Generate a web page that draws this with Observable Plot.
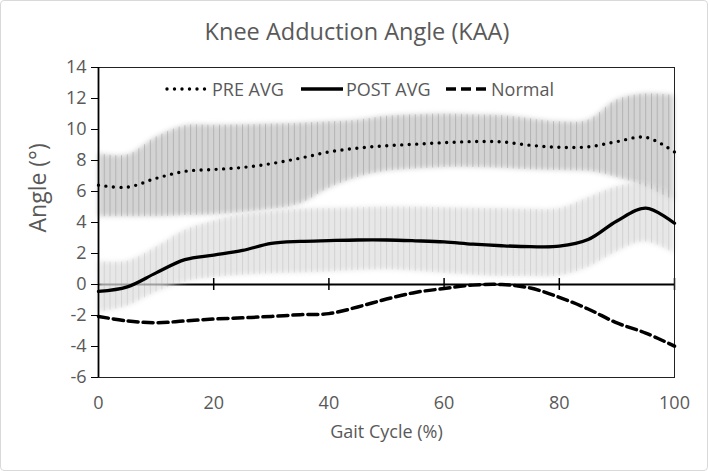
<!DOCTYPE html>
<html><head><meta charset="utf-8">
<script src="https://cdn.jsdelivr.net/npm/d3@7"></script>
<script src="https://cdn.jsdelivr.net/npm/@observablehq/plot@0.6"></script>
<style>
body{margin:0;background:#fff;}
#wrap{position:relative;width:708px;height:471px;overflow:hidden;font-family:"Open Sans",sans-serif;color:#595959;background:#fff;}
#border{position:absolute;left:0;top:0;right:0;bottom:0;border:1.5px solid #d9d9d9;border-radius:4px;pointer-events:none;}
#title{height:50px;box-sizing:border-box;padding-top:13px;line-height:36px;text-align:center;font-size:23.5px;padding-left:6px;}
#legend{position:absolute;top:77px;left:0;height:24px;font-size:18px;}
.li{position:absolute;top:0;display:flex;align-items:center;height:24px;white-space:nowrap;}
.li svg{display:block;margin-right:2px;}
#chart svg{display:block;}
</style></head>
<body>
<div id="wrap">
  <div id="title">Knee Adduction Angle (KAA)</div>
  <div id="chart"></div>
  <div id="legend"></div>
  <div id="border"></div>
</div>
<script>
// ---- data ----
const gait = [0,5,10,15,20,25,30,35,40,45,50,55,60,65,70,75,80,85,90,95,100];
const preAvg  = [6.41,6.28,6.85,7.30,7.42,7.55,7.80,8.15,8.55,8.80,8.95,9.05,9.15,9.22,9.20,8.98,8.85,8.88,9.22,9.50,8.55];
const preHi   = [8.45,8.35,9.50,10.25,10.27,10.30,10.35,10.40,10.50,10.60,10.85,10.95,11.00,10.95,10.90,10.70,10.50,10.60,11.90,12.30,12.20];
const preLo   = [4.37,4.37,4.37,4.45,4.50,4.65,4.85,5.20,6.20,6.90,7.30,7.45,7.55,7.55,7.50,7.40,7.35,7.30,6.90,6.30,5.40];
const postAvg = [-0.45,-0.15,0.75,1.60,1.90,2.20,2.65,2.78,2.83,2.87,2.87,2.82,2.75,2.60,2.50,2.44,2.47,2.90,4.10,4.93,3.95];
const postHi  = [1.48,1.50,2.40,3.50,4.10,4.50,4.70,4.85,4.90,4.95,5.00,5.00,4.95,4.92,4.90,4.85,4.90,5.60,6.30,6.55,5.90];
const postLo  = [-1.80,-1.40,-0.50,0.15,0.45,0.60,0.70,0.75,0.80,0.90,0.95,0.85,0.72,0.60,0.52,0.52,0.55,1.10,2.10,2.75,2.00];
const normal  = [-2.06,-2.35,-2.47,-2.35,-2.23,-2.15,-2.06,-1.95,-1.88,-1.45,-0.94,-0.51,-0.26,-0.04,0.00,-0.23,-0.83,-1.58,-2.48,-3.13,-3.98];
const xTicks = [0,20,40,60,80,100];
const yTicks = [-6,-4,-2,0,2,4,6,8,10,12,14];
const seriesNames = ["PRE AVG","POST AVG","Normal"];

const rows = gait.map((g,i)=>({x:g,preAvg:preAvg[i],preHi:preHi[i],preLo:preLo[i],postAvg:postAvg[i],postHi:postHi[i],postLo:postLo[i],normal:normal[i]}));

const curve = "catmull-rom";
const fmt = d => String(d);
const chart = Plot.plot({
  width: 708, height: 421,
  marginTop: 17, marginBottom: 94, marginLeft: 98, marginRight: 34,
  style: {fontFamily: "'Open Sans', sans-serif", fontSize: "18px", color: "#595959", background: "transparent", overflow: "visible"},
  x: {domain: [0,100]},
  y: {domain: [-6,14]},
  marks: [
    Plot.ruleY([0], {stroke: "#000", strokeWidth: 2}),
    // blurred band bodies
    Plot.areaY(rows, {x: "x", y1: "preLo", y2: "preHi", fill: "#cbcbcb", fillOpacity: 0.85, curve}),
    Plot.areaY(rows, {x: "x", y1: "postLo", y2: "postHi", fill: "#dedede", fillOpacity: 0.72, curve}),
    // vertical error-bar texture
    Plot.areaY(rows, {x: "x", y1: "preLo", y2: "preHi", fill: "url(#prePat)", curve}),
    Plot.areaY(rows, {x: "x", y1: "postLo", y2: "postHi", fill: "url(#postPat)", curve}),
    Plot.ruleX(xTicks.filter(d=>d>0), {y1: 0, y2: 0, insetTop: -6, insetBottom: -6, stroke: "#000", strokeWidth: 1.5}),
    Plot.frame({stroke: "#222", strokeWidth: 1}),
    Plot.ruleX([0], {stroke: "#000", strokeWidth: 1.8}),
    Plot.line(rows, {x: "x", y: "normal", stroke: "#000", strokeWidth: 3.5, strokeDasharray: "10 5", curve}),
    Plot.line(rows, {x: "x", y: "preAvg", stroke: "#000", strokeWidth: 3.4, strokeDasharray: "0 7.5", strokeLinecap: "round", curve}),
    Plot.line(rows, {x: "x", y: "postAvg", stroke: "#000", strokeWidth: 3.3, curve}),
    Plot.axisX({ticks: xTicks, tickSize: 0, tickPadding: 19, label: null, fontSize: 18, tickFormat: fmt}),
    Plot.axisY({ticks: yTicks, tickSize: 7, tickPadding: 5, label: null, fontSize: 18, stroke: "#000", tickFormat: fmt}),
    Plot.text(["Angle (°)"], {frameAnchor: "left", rotate: -90, dx: -60, dy: 10, fontSize: 23, fill: "#595959"}),
    Plot.text(["Gait Cycle (%)"], {frameAnchor: "bottom", dy: 60, fontSize: 18, fill: "#595959"})
  ]
});

// patterns imitating the vertical error bars
const xs = chart.scale("x");
const step = xs.apply(1) - xs.apply(0);
const x0 = xs.apply(0);
const svg = d3.select(chart);
const defs = svg.insert("defs", ":first-child");
function pat(id, line){
  const p = defs.append("pattern").attr("id", id).attr("patternUnits","userSpaceOnUse")
    .attr("x", x0).attr("y", 0).attr("width", step).attr("height", 20);
  p.append("rect").attr("x", 0).attr("width", 1).attr("height", 20).attr("fill", line);
}
pat("prePat", "rgba(120,120,120,0.35)");
pat("postPat", "rgba(140,140,140,0.22)");
const areas = svg.selectAll('g[aria-label="area"]').nodes();
areas.slice(0,2).forEach(n => n.style.filter = "blur(2.6px)");
areas.slice(2).forEach(n => n.style.filter = "blur(0.7px)");

document.getElementById("chart").appendChild(chart);

// legend
const leg = d3.select("#legend");
const items = [
  {name: seriesNames[0], left: 165, dash: "0 7.5", cap: "round", w: 3.4},
  {name: seriesNames[1], left: 299, dash: null, cap: "butt", w: 3.3},
  {name: seriesNames[2], left: 444, dash: "10 5", cap: "butt", w: 3.5}
];
items.forEach(it => {
  const d = leg.append("div").attr("class","li").style("left", it.left + "px");
  const s = d.append("svg").attr("width", 45).attr("height", 10);
  const l = s.append("line").attr("x1", 2).attr("x2", 44).attr("y1", 5).attr("y2", 5)
    .attr("stroke", "#000").attr("stroke-width", it.w).attr("stroke-linecap", it.cap);
  if (it.dash) l.attr("stroke-dasharray", it.dash);
  d.append("span").text(it.name);
});
</script>
</body></html>
